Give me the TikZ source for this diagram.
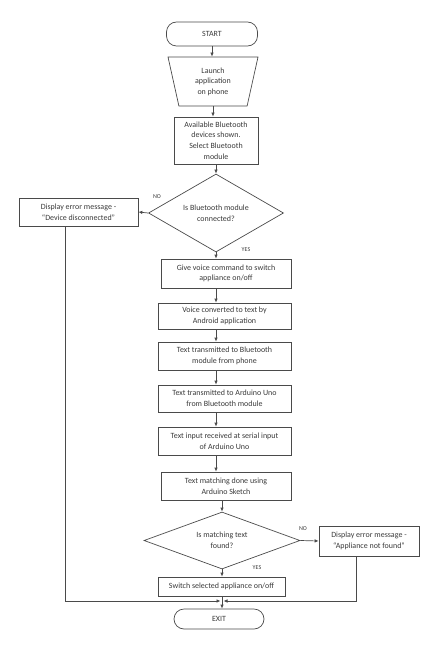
\documentclass[tikz,border=0pt]{standalone}
\usepackage{fontspec}
\setmainfont{Carlito}
\usetikzlibrary{arrows.meta,positioning,shapes.geometric}
\definecolor{linegray}{HTML}{4A4A4A}
\definecolor{textgray}{HTML}{3A3A3A}

\begin{document}
\begin{tikzpicture}[x=1bp,y=-1bp,
every node/.style={text=textgray,font=\fontsize{8}{10.6}\selectfont,align=center,inner sep=1bp},
box/.style={draw=linegray,rectangle,line width=0.7bp},
term/.style={draw=linegray,rectangle,rounded corners=10bp,line width=0.7bp},
io/.style={draw=linegray,trapezium,trapezium angle=70,trapezium stretches body,shape border rotate=180,line width=0.7bp},
dec/.style={draw=linegray,diamond,aspect=2,inner sep=0pt,line width=0.7bp},
lbl/.style={font=\fontsize{6}{7}\selectfont},
arr/.style={draw=linegray,line width=0.7bp,-{Latex[length=4bp,width=3.5bp]}}]
\useasboundingbox (0,0) rectangle (440,648);
\node[term,minimum width=91bp,minimum height=24bp] (start) at (212,34) {START};
\node[io,minimum width=90bp,minimum height=49bp] (launch) at (213,81.5) {Launch\\application\\on phone};
\node[box,minimum width=84bp,minimum height=47bp] (select) at (216,140.5) {Available Bluetooth\\devices shown.\\Select Bluetooth\\module};
\node[dec,minimum width=135bp,minimum height=78bp] (conn) at (216,213) {Is Bluetooth module\\connected?};
\node[box,minimum width=119bp,minimum height=28bp] (err1) at (78.5,212) {Display error message -\\``Device disconnected''};
\node[box,minimum width=130bp,minimum height=29bp] (voice) at (226,273.5) {Give voice command to switch\\appliance on/off};
\node[box,minimum width=133bp,minimum height=26bp] (convert) at (224.5,316) {Voice converted to text by\\Android application};
\node[box,minimum width=133bp,minimum height=28bp] (tbt) at (224.5,356) {Text transmitted to Bluetooth\\module from phone};
\node[box,minimum width=133bp,minimum height=27bp] (tard) at (224.5,398.5) {Text transmitted to Arduino Uno\\from Bluetooth module};
\node[box,minimum width=133bp,minimum height=28bp] (tin) at (224.5,441) {Text input received at serial input\\of Arduino Uno};
\node[box,minimum width=130bp,minimum height=28bp] (match) at (226,486) {Text matching done using\\Arduino Sketch};
\node[dec,minimum width=156bp,minimum height=57bp] (found) at (222,540.5) {Is matching text\\found?};
\node[box,minimum width=100bp,minimum height=30bp] (err2) at (369,541) {Display error message -\\``Appliance not found''};
\node[box,minimum width=127bp,minimum height=19bp] (switch) at (221.5,586.5) {Switch selected appliance on/off};
\node[term,minimum width=90bp,minimum height=20bp] (exit) at (219,619) {EXIT};
\coordinate (merge) at (222,601);
% labels
\node[lbl] (no1) at (157,197) {NO};
\node[lbl] (yes1) at (246,250) {YES};
\node[lbl] (no2) at (303,529) {NO};
\node[lbl] (yes2) at (257,568) {YES};
% connectors
\draw[arr] (start.south) -- (start.south |- launch.north);
\draw[arr] (launch.south) -- (launch.south |- select.north);
\draw[arr] (select.south) -- (select.south |- conn.north);
\draw[arr] (conn.west) -- (err1.east);
\draw[arr] (conn.south) -- (conn.south |- voice.north);
\draw[arr] (conn.south |- voice.south) -- (conn.south |- convert.north);
\draw[arr] (conn.south |- convert.south) -- (conn.south |- tbt.north);
\draw[arr] (conn.south |- tbt.south) -- (conn.south |- tard.north);
\draw[arr] (conn.south |- tard.south) -- (conn.south |- tin.north);
\draw[arr] (conn.south |- tin.south) -- (conn.south |- match.north);
\draw[arr] (found.north |- match.south) -- (found.north);
\draw[arr] (found.east) -- (err2.west);
\draw[arr] (found.south) -- (found.south |- switch.north);
\draw[arr] (found.south |- switch.south) -- (found.south |- exit.north);
\draw[arr] ([xshift=-13.5bp]err1.south) |- ([xshift=-1.5bp]merge);
\draw[arr] ([xshift=-13bp]err2.south) |- ([xshift=1.5bp]merge);
\end{tikzpicture}
\end{document}
